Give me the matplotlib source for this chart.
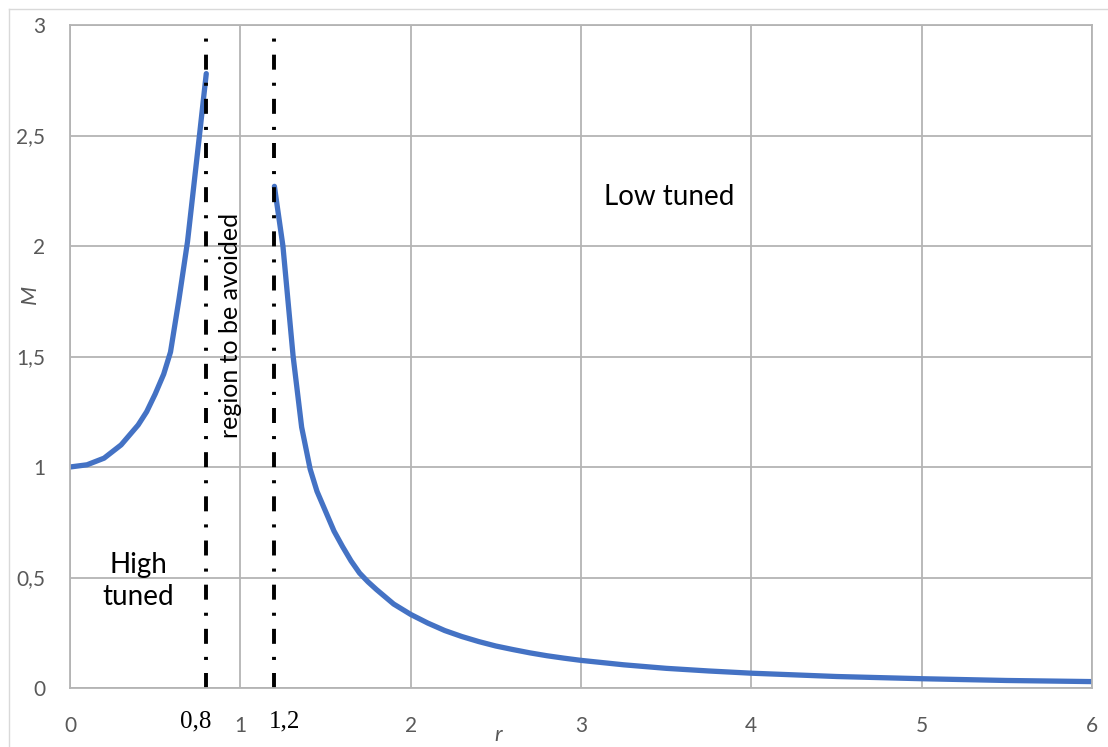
import matplotlib
matplotlib.use('Agg')
import matplotlib.pyplot as plt
from matplotlib.lines import Line2D

r_high = [0, 0.1, 0.2, 0.3, 0.4, 0.45, 0.5, 0.55, 0.59, 0.64, 0.69, 0.76, 0.8]
m_high = [1.00, 1.01, 1.04, 1.10, 1.19, 1.25, 1.33, 1.42, 1.52, 1.76, 2.02,
          2.50, 2.78]

r_low = [1.2, 1.25, 1.31, 1.36, 1.41, 1.45, 1.5, 1.55, 1.6, 1.65, 1.7, 1.75,
         1.8, 1.9, 2.0, 2.1, 2.2, 2.3, 2.4, 2.5, 2.6, 2.7, 2.8, 2.9, 3.0, 3.25,
         3.5, 3.75, 4.0, 4.5, 5.0, 5.5, 6.0]
m_low = [2.27, 2.00, 1.50, 1.18, 0.99, 0.89, 0.80, 0.71, 0.64, 0.575, 0.52,
         0.48, 0.445, 0.38, 0.333, 0.294, 0.26, 0.233, 0.21, 0.19, 0.174,
         0.159, 0.146, 0.135, 0.125, 0.105, 0.089, 0.077, 0.067, 0.052, 0.042,
         0.034, 0.029]

limits = [0.8, 1.2]
limit_labels = ['0,8', '1,2']
x_ticks = [0, 1, 2, 3, 4, 5, 6]
y_ticks = [0, 0.5, 1, 1.5, 2, 2.5, 3]
y_labels = ['0', '0,5', '1', '1,5', '2', '2,5', '3']

plt.rcParams['font.family'] = ['Lato', 'DejaVu Sans']
plt.rcParams['lines.scale_dashes'] = False

fig = plt.figure(figsize=(11.08, 7.47), dpi=100)
ax = fig.add_axes([70/1108, 1-688/747, (1092-70)/1108, (688-25)/747])

grid_c = '#b4b4b4'
ax.set_xlim(0, 6)
ax.set_ylim(0, 3)
ax.set_xticks(x_ticks)
ax.set_yticks(y_ticks)
ax.set_yticklabels(y_labels)
ax.grid(True, color=grid_c, lw=1.3)
ax.set_axisbelow(True)
for s in ax.spines.values():
    s.set_color(grid_c)
    s.set_linewidth(1.3)
ax.tick_params(length=0, labelsize=15, colors='#595959')
ax.tick_params(axis='x', pad=20)
ax.tick_params(axis='y', pad=18)

ax.plot(r_high, m_high, color='#4472C4', lw=3.8, solid_capstyle='round',
        solid_joinstyle='round')
ax.plot(r_low, m_low, color='#4472C4', lw=3.8, solid_capstyle='round',
        solid_joinstyle='round')

label_x = [0.735, 1.257]
for xv, lx, lab in zip(limits, label_x, limit_labels):
    ax.plot([xv, xv], [0, 2.94], color='black', lw=2.8,
            dashes=[10.8, 9.4, 2.2, 9.4], dash_capstyle='butt')
    ax.text(lx, -0.1, lab, ha='center', va='top', fontsize=18,
            family=['Liberation Serif', 'DejaVu Serif'], color='black')

ax.text(0.94, 1.64, 'region to be avoided', rotation=90, ha='center',
        va='center', fontsize=18)
ax.text(3.52, 2.22, 'Low tuned', ha='center', va='center', fontsize=20)
ax.text(0.4, 0.484, 'High\ntuned', ha='center', va='center', fontsize=20,
        linespacing=1.3)

ax.set_xlabel('r', fontsize=16, style='italic', color='#595959')
ax.xaxis.set_label_coords(0.419, -0.071)
ax.xaxis.label.set_va('center')
ax.set_ylabel('M', fontsize=16, style='italic', color='#595959')
ax.yaxis.set_label_coords(-0.039, 0.594)
ax.yaxis.label.set_va('center')

# chart area border (only top and left visible)
fig.add_artist(Line2D([9/1108, 9/1108], [0, 1-9/747], color='#d9d9d9', lw=1))
fig.add_artist(Line2D([9/1108, 1], [1-9/747, 1-9/747], color='#d9d9d9', lw=1))

fig.savefig('out.png', dpi=100)
